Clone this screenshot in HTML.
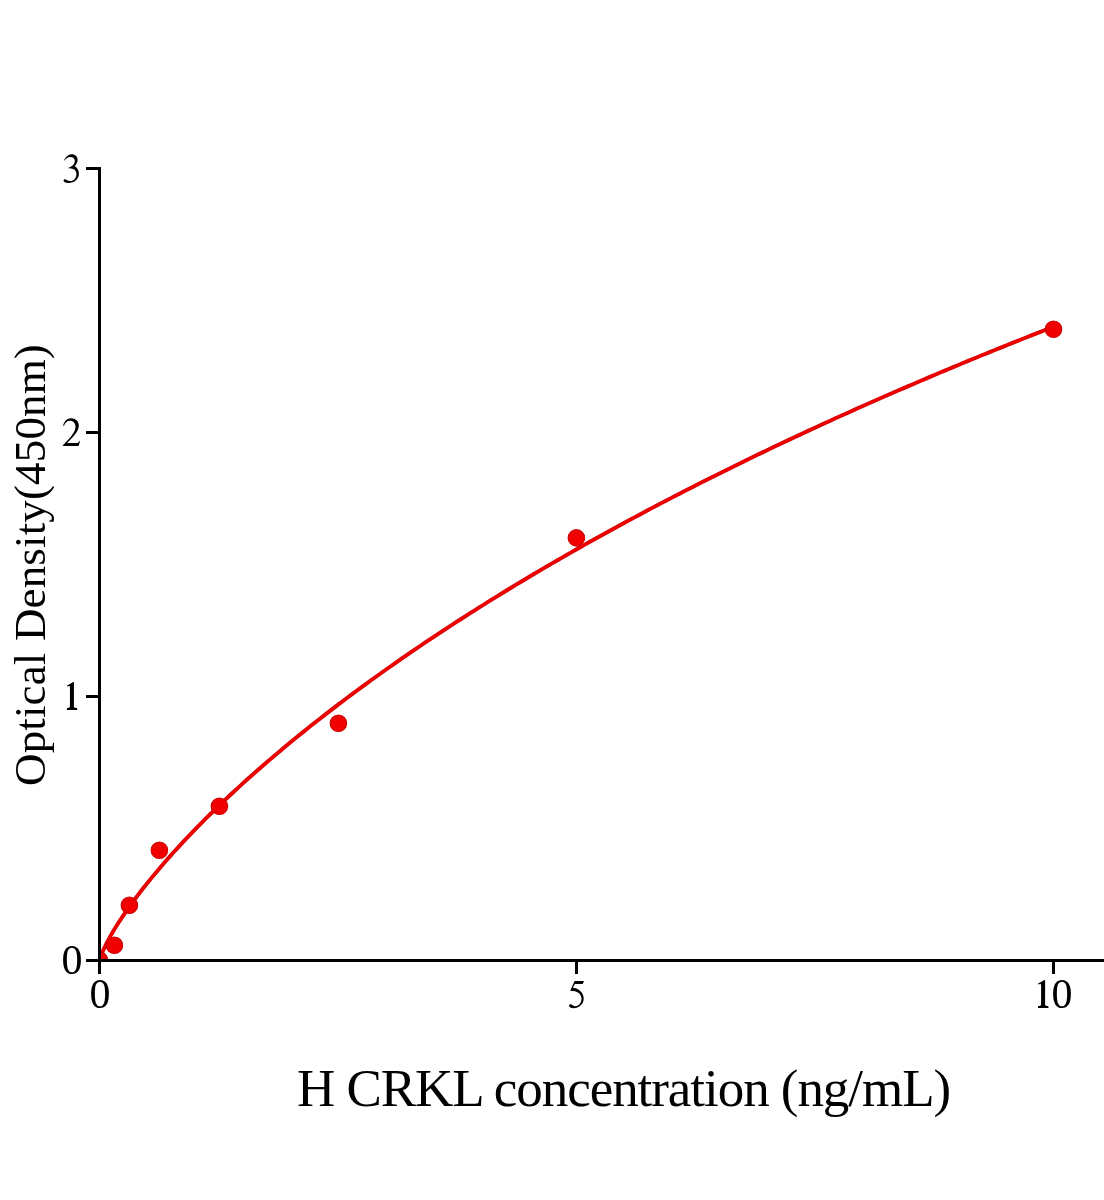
<!DOCTYPE html>
<html><head><meta charset="utf-8"><style>
html,body{margin:0;padding:0;background:#fff;}
body{width:1104px;height:1200px;overflow:hidden;}
svg{display:block;will-change:transform;}
text{font-family:"Liberation Serif",serif;fill:#000;}
</style></head><body>
<svg width="1104" height="1200" viewBox="0 0 1104 1200">
<defs><clipPath id="pa"><rect x="101" y="0" width="1003" height="959"/></clipPath></defs>
<g clip-path="url(#pa)">
<path d="M99.50,961.02 L99.66,960.13 L99.82,959.48 L99.98,958.90 L100.14,958.36 L100.30,957.85 L100.45,957.36 L100.61,956.88 L100.77,956.43 L100.93,955.98 L101.09,955.54 L101.25,955.12 L101.41,954.70 L101.57,954.29 L101.73,953.88 L101.89,953.48 L102.04,953.09 L102.20,952.71 L102.36,952.32 L102.52,951.95 L102.68,951.57 L102.84,951.20 L103.00,950.84 L103.16,950.48 L103.32,950.12 L103.47,949.76 L103.63,949.41 L103.79,949.06 L103.95,948.71 L104.11,948.37 L104.27,948.03 L104.99,946.52 L105.70,945.06 L106.42,943.64 L107.13,942.24 L107.85,940.88 L108.56,939.54 L109.28,938.22 L109.99,936.93 L110.71,935.66 L111.42,934.40 L112.14,933.16 L112.86,931.94 L113.57,930.74 L114.29,929.54 L115.00,928.36 L115.72,927.20 L116.43,926.04 L117.15,924.90 L117.86,923.76 L118.58,922.64 L119.30,921.53 L120.01,920.42 L120.73,919.33 L121.44,918.24 L122.16,917.17 L122.87,916.10 L123.59,915.04 L124.30,913.98 L125.02,912.94 L125.73,911.90 L126.45,910.86 L127.17,909.84 L127.88,908.82 L128.60,907.81 L129.31,906.80 L130.03,905.80 L130.74,904.80 L131.46,903.81 L132.17,902.83 L132.89,901.85 L133.61,900.88 L134.32,899.91 L135.04,898.94 L135.75,897.98 L136.47,897.03 L137.18,896.08 L137.90,895.14 L138.61,894.20 L139.33,893.26 L140.05,892.33 L140.76,891.40 L141.48,890.48 L142.19,889.56 L142.91,888.64 L143.62,887.73 L144.34,886.82 L145.05,885.92 L145.77,885.02 L146.48,884.12 L147.20,883.23 L151.75,877.62 L156.31,872.14 L160.86,866.78 L165.42,861.52 L169.97,856.37 L174.53,851.30 L179.08,846.32 L183.63,841.42 L188.19,836.60 L192.74,831.85 L197.30,827.17 L201.85,822.55 L206.41,817.99 L210.96,813.49 L215.51,809.04 L220.07,804.65 L224.62,800.31 L229.18,796.02 L233.73,791.78 L238.29,787.59 L242.84,783.43 L247.39,779.32 L251.95,775.25 L256.50,771.22 L261.06,767.23 L265.61,763.28 L270.17,759.36 L274.72,755.48 L279.27,751.64 L283.83,747.82 L288.38,744.04 L292.94,740.29 L297.49,736.58 L302.05,732.89 L306.60,729.23 L311.15,725.60 L315.71,722.00 L320.26,718.43 L324.82,714.88 L329.37,711.36 L333.93,707.86 L338.48,704.39 L343.03,700.95 L347.59,697.53 L352.14,694.13 L356.70,690.76 L361.25,687.41 L365.81,684.08 L370.36,680.77 L374.91,677.49 L379.47,674.22 L384.02,670.98 L388.58,667.76 L393.13,664.56 L397.68,661.37 L402.24,658.21 L406.79,655.07 L411.35,651.94 L415.90,648.84 L420.46,645.75 L425.01,642.68 L429.56,639.63 L434.12,636.59 L438.67,633.58 L443.23,630.58 L447.78,627.59 L452.34,624.63 L456.89,621.67 L461.44,618.74 L466.00,615.82 L470.55,612.92 L475.11,610.03 L479.66,607.16 L484.22,604.30 L488.77,601.46 L493.32,598.63 L497.88,595.81 L502.43,593.02 L506.99,590.23 L511.54,587.46 L516.10,584.70 L520.65,581.96 L525.20,579.23 L529.76,576.51 L534.31,573.80 L538.87,571.11 L543.42,568.43 L547.98,565.77 L552.53,563.11 L557.08,560.47 L561.64,557.85 L566.19,555.23 L570.75,552.62 L575.30,550.03 L579.86,547.45 L584.41,544.88 L588.96,542.32 L593.52,539.78 L598.07,537.24 L602.63,534.72 L607.18,532.20 L611.74,529.70 L616.29,527.21 L620.84,524.73 L625.40,522.26 L629.95,519.80 L634.51,517.35 L639.06,514.91 L643.62,512.48 L648.17,510.06 L652.72,507.65 L657.28,505.26 L661.83,502.87 L666.39,500.49 L670.94,498.12 L675.50,495.76 L680.05,493.41 L684.60,491.07 L689.16,488.73 L693.71,486.41 L698.27,484.10 L702.82,481.79 L707.38,479.50 L711.93,477.21 L716.48,474.93 L721.04,472.66 L725.59,470.40 L730.15,468.15 L734.70,465.91 L739.26,463.67 L743.81,461.45 L748.36,459.23 L752.92,457.02 L757.47,454.82 L762.03,452.62 L766.58,450.44 L771.14,448.26 L775.69,446.09 L780.24,443.93 L784.80,441.78 L789.35,439.63 L793.91,437.49 L798.46,435.36 L803.02,433.24 L807.57,431.12 L812.12,429.02 L816.68,426.92 L821.23,424.82 L825.79,422.74 L830.34,420.66 L834.89,418.59 L839.45,416.52 L844.00,414.46 L848.56,412.41 L853.11,410.37 L857.67,408.33 L862.22,406.30 L866.77,404.28 L871.33,402.27 L875.88,400.26 L880.44,398.25 L884.99,396.26 L889.55,394.27 L894.10,392.29 L898.65,390.31 L903.21,388.34 L907.76,386.38 L912.32,384.42 L916.87,382.47 L921.43,380.53 L925.98,378.59 L930.53,376.66 L935.09,374.73 L939.64,372.81 L944.20,370.90 L948.75,368.99 L953.31,367.09 L957.86,365.20 L962.41,363.31 L966.97,361.42 L971.52,359.55 L976.08,357.68 L980.63,355.81 L985.19,353.95 L989.74,352.10 L994.29,350.25 L998.85,348.40 L1003.40,346.57 L1007.96,344.73 L1012.51,342.91 L1017.07,341.09 L1021.62,339.27 L1026.17,337.46 L1030.73,335.66 L1035.28,333.86 L1039.84,332.07 L1044.39,330.28 L1048.95,328.49 L1053.50,326.72" fill="none" stroke="#d40000" stroke-width="3.9" stroke-linejoin="round"/>
<path d="M99.50,961.02 L99.66,960.13 L99.82,959.48 L99.98,958.90 L100.14,958.36 L100.30,957.85 L100.45,957.36 L100.61,956.88 L100.77,956.43 L100.93,955.98 L101.09,955.54 L101.25,955.12 L101.41,954.70 L101.57,954.29 L101.73,953.88 L101.89,953.48 L102.04,953.09 L102.20,952.71 L102.36,952.32 L102.52,951.95 L102.68,951.57 L102.84,951.20 L103.00,950.84 L103.16,950.48 L103.32,950.12 L103.47,949.76 L103.63,949.41 L103.79,949.06 L103.95,948.71 L104.11,948.37 L104.27,948.03 L104.99,946.52 L105.70,945.06 L106.42,943.64 L107.13,942.24 L107.85,940.88 L108.56,939.54 L109.28,938.22 L109.99,936.93 L110.71,935.66 L111.42,934.40 L112.14,933.16 L112.86,931.94 L113.57,930.74 L114.29,929.54 L115.00,928.36 L115.72,927.20 L116.43,926.04 L117.15,924.90 L117.86,923.76 L118.58,922.64 L119.30,921.53 L120.01,920.42 L120.73,919.33 L121.44,918.24 L122.16,917.17 L122.87,916.10 L123.59,915.04 L124.30,913.98 L125.02,912.94 L125.73,911.90 L126.45,910.86 L127.17,909.84 L127.88,908.82 L128.60,907.81 L129.31,906.80 L130.03,905.80 L130.74,904.80 L131.46,903.81 L132.17,902.83 L132.89,901.85 L133.61,900.88 L134.32,899.91 L135.04,898.94 L135.75,897.98 L136.47,897.03 L137.18,896.08 L137.90,895.14 L138.61,894.20 L139.33,893.26 L140.05,892.33 L140.76,891.40 L141.48,890.48 L142.19,889.56 L142.91,888.64 L143.62,887.73 L144.34,886.82 L145.05,885.92 L145.77,885.02 L146.48,884.12 L147.20,883.23 L151.75,877.62 L156.31,872.14 L160.86,866.78 L165.42,861.52 L169.97,856.37 L174.53,851.30 L179.08,846.32 L183.63,841.42 L188.19,836.60 L192.74,831.85 L197.30,827.17 L201.85,822.55 L206.41,817.99 L210.96,813.49 L215.51,809.04 L220.07,804.65 L224.62,800.31 L229.18,796.02 L233.73,791.78 L238.29,787.59 L242.84,783.43 L247.39,779.32 L251.95,775.25 L256.50,771.22 L261.06,767.23 L265.61,763.28 L270.17,759.36 L274.72,755.48 L279.27,751.64 L283.83,747.82 L288.38,744.04 L292.94,740.29 L297.49,736.58 L302.05,732.89 L306.60,729.23 L311.15,725.60 L315.71,722.00 L320.26,718.43 L324.82,714.88 L329.37,711.36 L333.93,707.86 L338.48,704.39 L343.03,700.95 L347.59,697.53 L352.14,694.13 L356.70,690.76 L361.25,687.41 L365.81,684.08 L370.36,680.77 L374.91,677.49 L379.47,674.22 L384.02,670.98 L388.58,667.76 L393.13,664.56 L397.68,661.37 L402.24,658.21 L406.79,655.07 L411.35,651.94 L415.90,648.84 L420.46,645.75 L425.01,642.68 L429.56,639.63 L434.12,636.59 L438.67,633.58 L443.23,630.58 L447.78,627.59 L452.34,624.63 L456.89,621.67 L461.44,618.74 L466.00,615.82 L470.55,612.92 L475.11,610.03 L479.66,607.16 L484.22,604.30 L488.77,601.46 L493.32,598.63 L497.88,595.81 L502.43,593.02 L506.99,590.23 L511.54,587.46 L516.10,584.70 L520.65,581.96 L525.20,579.23 L529.76,576.51 L534.31,573.80 L538.87,571.11 L543.42,568.43 L547.98,565.77 L552.53,563.11 L557.08,560.47 L561.64,557.85 L566.19,555.23 L570.75,552.62 L575.30,550.03 L579.86,547.45 L584.41,544.88 L588.96,542.32 L593.52,539.78 L598.07,537.24 L602.63,534.72 L607.18,532.20 L611.74,529.70 L616.29,527.21 L620.84,524.73 L625.40,522.26 L629.95,519.80 L634.51,517.35 L639.06,514.91 L643.62,512.48 L648.17,510.06 L652.72,507.65 L657.28,505.26 L661.83,502.87 L666.39,500.49 L670.94,498.12 L675.50,495.76 L680.05,493.41 L684.60,491.07 L689.16,488.73 L693.71,486.41 L698.27,484.10 L702.82,481.79 L707.38,479.50 L711.93,477.21 L716.48,474.93 L721.04,472.66 L725.59,470.40 L730.15,468.15 L734.70,465.91 L739.26,463.67 L743.81,461.45 L748.36,459.23 L752.92,457.02 L757.47,454.82 L762.03,452.62 L766.58,450.44 L771.14,448.26 L775.69,446.09 L780.24,443.93 L784.80,441.78 L789.35,439.63 L793.91,437.49 L798.46,435.36 L803.02,433.24 L807.57,431.12 L812.12,429.02 L816.68,426.92 L821.23,424.82 L825.79,422.74 L830.34,420.66 L834.89,418.59 L839.45,416.52 L844.00,414.46 L848.56,412.41 L853.11,410.37 L857.67,408.33 L862.22,406.30 L866.77,404.28 L871.33,402.27 L875.88,400.26 L880.44,398.25 L884.99,396.26 L889.55,394.27 L894.10,392.29 L898.65,390.31 L903.21,388.34 L907.76,386.38 L912.32,384.42 L916.87,382.47 L921.43,380.53 L925.98,378.59 L930.53,376.66 L935.09,374.73 L939.64,372.81 L944.20,370.90 L948.75,368.99 L953.31,367.09 L957.86,365.20 L962.41,363.31 L966.97,361.42 L971.52,359.55 L976.08,357.68 L980.63,355.81 L985.19,353.95 L989.74,352.10 L994.29,350.25 L998.85,348.40 L1003.40,346.57 L1007.96,344.73 L1012.51,342.91 L1017.07,341.09 L1021.62,339.27 L1026.17,337.46 L1030.73,335.66 L1035.28,333.86 L1039.84,332.07 L1044.39,330.28 L1048.95,328.49 L1053.50,326.72" fill="none" stroke="#f00000" stroke-width="2.4" stroke-linejoin="round"/>
<g fill="#f00000" stroke="#cc0000" stroke-width="1.1">
<circle cx="99.5" cy="960.3" r="8.25"/>
<circle cx="114.4" cy="945.3" r="8.25"/>
<circle cx="129.4" cy="905.3" r="8.25"/>
<circle cx="159.4" cy="850.3" r="8.25"/>
<circle cx="219.4" cy="806.3" r="8.25"/>
<circle cx="338.4" cy="723.3" r="8.25"/>
<circle cx="576.4" cy="537.9" r="8.25"/>
<circle cx="1053.5" cy="329.2" r="8.25"/>
</g>
</g>
<g stroke="#000" stroke-width="3" fill="none">
<line x1="99.5" y1="167" x2="99.5" y2="974"/>
<line x1="86" y1="960.5" x2="1104" y2="960.5"/>
<line x1="86" y1="168.5" x2="101" y2="168.5"/>
<line x1="86" y1="432.5" x2="101" y2="432.5"/>
<line x1="86" y1="696.5" x2="101" y2="696.5"/>
<line x1="576.5" y1="959" x2="576.5" y2="974"/>
<line x1="1053.5" y1="959" x2="1053.5" y2="974"/>
</g>
<g font-size="42" text-anchor="end">
<text x="82.6" y="974">0</text>
</g>
<g fill="#000">
<path d="M64,160.3 C65.5,157.5 68,154.3 71.5,154.3 C75.5,154.3 77.6,156.8 77.6,159.8 C77.6,162.5 76.2,164.5 74.8,166.2 C77.3,167.6 78.9,170.2 78.9,173.6 C78.9,179 74.5,183.1 68.5,183.1 C65.5,183.1 63.5,182 63.5,180.8 C63.5,179.9 64.2,179.3 65,179.3 C66.2,179.3 67.5,181.1 70.3,181.1 C73.8,181.1 76.4,178.2 76.4,174.0 C76.4,170.3 73.5,168.2 68.0,168.3 L68.0,167.9 C72,166.6 74.8,164.2 74.8,160.9 C74.8,158.5 73.0,156.9 70.4,156.9 C67.8,156.9 66,158.6 64.4,160.6 Z"/>
<path d="M63.2,425.6 C64,421.3 67,418.2 71,418.2 C75.5,418.2 78.8,421.2 78.8,425.6 C78.8,430.5 75.5,434.8 67.2,443.0 L76.5,443.0 C77.8,443.0 78.7,442.3 79.5,440.9 L80.1,441.1 L78.6,445.9 L62.9,445.9 L62.9,445.3 C72,436.2 75.5,431.5 75.5,426.8 C75.5,423.2 73.2,420.8 70,420.8 C67,420.8 65,422.8 63.9,425.9 Z"/>
<path transform="translate(69.93,709.9)" d="M4,-27.9 L4,-3.2 Q4.2,-1.9 7.3,-1.7 L7.3,0 L-3.1,0 L-3.1,-1.7 Q-0.2,-1.9 0,-3.2 L0,-22.5 Q0,-24.3 -1.2,-24.0 L-2.9,-23.4 L-3.2,-24.1 L3.3,-27.9 Z"/>
<path transform="translate(1041.1,1007.9)" d="M4,-27.9 L4,-3.2 Q4.2,-1.9 7.3,-1.7 L7.3,0 L-3.1,0 L-3.1,-1.7 Q-0.2,-1.9 0,-3.2 L0,-22.5 Q0,-24.3 -1.2,-24.0 L-2.9,-23.4 L-3.2,-24.1 L3.3,-27.9 Z"/>
<path d="M574.6,981.1 L584.05,981.1 L582.7,984.0 L574.9,984.0 L572.8,987.85 C577.5,988.3 583.8,991.5 583.7,998.8 C583.6,1004.5 578.5,1008.2 573.8,1008.2 C571.0,1008.2 569.0,1007.2 569.0,1005.8 C569.0,1004.8 569.8,1004.2 570.6,1004.2 C572.0,1004.2 573.2,1006.2 575.6,1006.2 C579.0,1006.2 581.5,1002.8 581.5,998.8 C581.5,993.5 577.0,990.6 570.2,990.7 Z"/>
</g>
<g font-size="42" text-anchor="middle">
<text x="100" y="1007.6">0</text>
<text x="1062.05" y="1008">0</text>
</g>
<text x="297" y="1106" font-size="53" letter-spacing="-1.05">H CRKL concentration (ng/mL)</text>
<text transform="translate(44.7,565) rotate(-90)" font-size="45" text-anchor="middle" letter-spacing="0.15">Optical Density(450nm)</text>
</svg>
</body></html>
